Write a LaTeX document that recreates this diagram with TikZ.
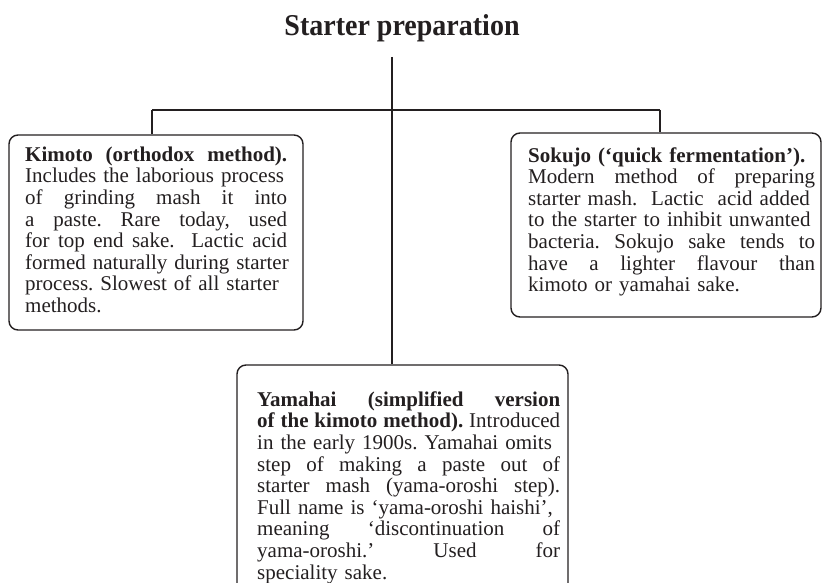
\documentclass[tikz,border=0pt]{standalone}
\usepackage{fontspec}
\setmainfont{Liberation Serif}
\definecolor{ink}{RGB}{35,31,32}
\newcommand{\linew}{250pt}
% body font; also records the width of the text block
\newcommand{\bodyfont}[1]{\def\linew{#1}\frenchspacing\fontsize{21}{21.6}\selectfont}
\tikzset{
  panel/.style={draw=ink, line width=1.4pt, rounded corners=9pt, inner sep=0pt},
  link/.style={draw=ink, line width=1.4pt},
  body/.style={anchor=north west, inner sep=0pt, text=ink, align=left,
    text width=#1, font=\bodyfont{#1}},
  heading/.style={anchor=base, inner sep=0pt, text=ink,
    font=\bfseries\fontsize{28}{30}\selectfont},
}
% a line stretched to the full text width
\newcommand{\fl}[1]{\makebox[\linew][s]{\spaceskip=0.25em plus 1fil\relax #1}}
% a line set at its own width
\newcommand{\nl}[1]{\makebox[\linew][l]{#1}}
% fixes the first baseline 15pt below the top of a text block
\newcommand{\topstrut}{\rule{0pt}{15pt}}
\begin{document}
\begin{tikzpicture}[x=1pt, y=-1pt]
  \useasboundingbox (0,0) rectangle (822,583);

  % heading
  \node[heading] (title) at (402,36) {\scalebox{1}[1.08]{Starter preparation}};

  % the three method panels
  \node[panel, minimum width=294pt, minimum height=195pt] (kimoto) at (156,232.5) {};
  \node[panel, minimum width=310pt, minimum height=184pt] (sokujo) at (666,225) {};
  \node[panel, minimum width=331pt, minimum height=235pt] (yamahai) at (402.5,482.5) {};

  % panel texts
  \node[body=262pt] (kimototext) at (25,146) {%
    \topstrut\fl{\textbf{Kimoto (orthodox method).}}\\
    \nl{Includes the laborious process}\\
    \fl{of grinding mash it into}\\
    \fl{a paste. Rare today, used}\\
    \fl{for top end sake.\ \ Lactic acid}\\
    \nl{formed naturally during starter}\\
    \nl{process. Slowest of all starter}\\
    \nl{methods.}};

  \node[body=287pt] (sokujotext) at (528,147) {%
    \topstrut\nl{\textbf{Sokujo (‘quick fermentation’).}}\\
    \fl{Modern method of preparing}\\
    \nl{starter mash. \ Lactic \ acid added}\\
    \nl{to the starter to inhibit unwanted}\\
    \fl{bacteria. Sokujo sake tends to}\\
    \fl{have a lighter flavour than}\\
    \nl{kimoto or yamahai sake.}};

  \node[body=303pt] (yamahaitext) at (257,391) {%
    \topstrut\fl{\textbf{Yamahai (simplified version}}\\
    \fl{\textbf{of the kimoto method).} Introduced}\\
    \nl{in the early 1900s. Yamahai omits}\\
    \fl{step of making a paste out of}\\
    \fl{starter mash\ (yama-oroshi step).}\\
    \nl{Full name is ‘yama-oroshi haishi’,}\\
    \fl{meaning ‘discontinuation of}\\
    \fl{yama-oroshi.’ Used for}\\
    \nl{speciality sake.}};

  % connectors
  \coordinate (stem) at (392,57);
  \coordinate (hub) at (392,110);
  \coordinate (lbranch) at (152,110);
  \coordinate (rbranch) at (660,110);
  \draw[link] (stem) -- (stem |- yamahai.north);
  \draw[link] (lbranch) -- (hub) -- (rbranch);
  \draw[link] (lbranch) -- (lbranch |- kimoto.north);
  \draw[link] (rbranch) -- (rbranch |- sokujo.north);
\end{tikzpicture}
\end{document}
